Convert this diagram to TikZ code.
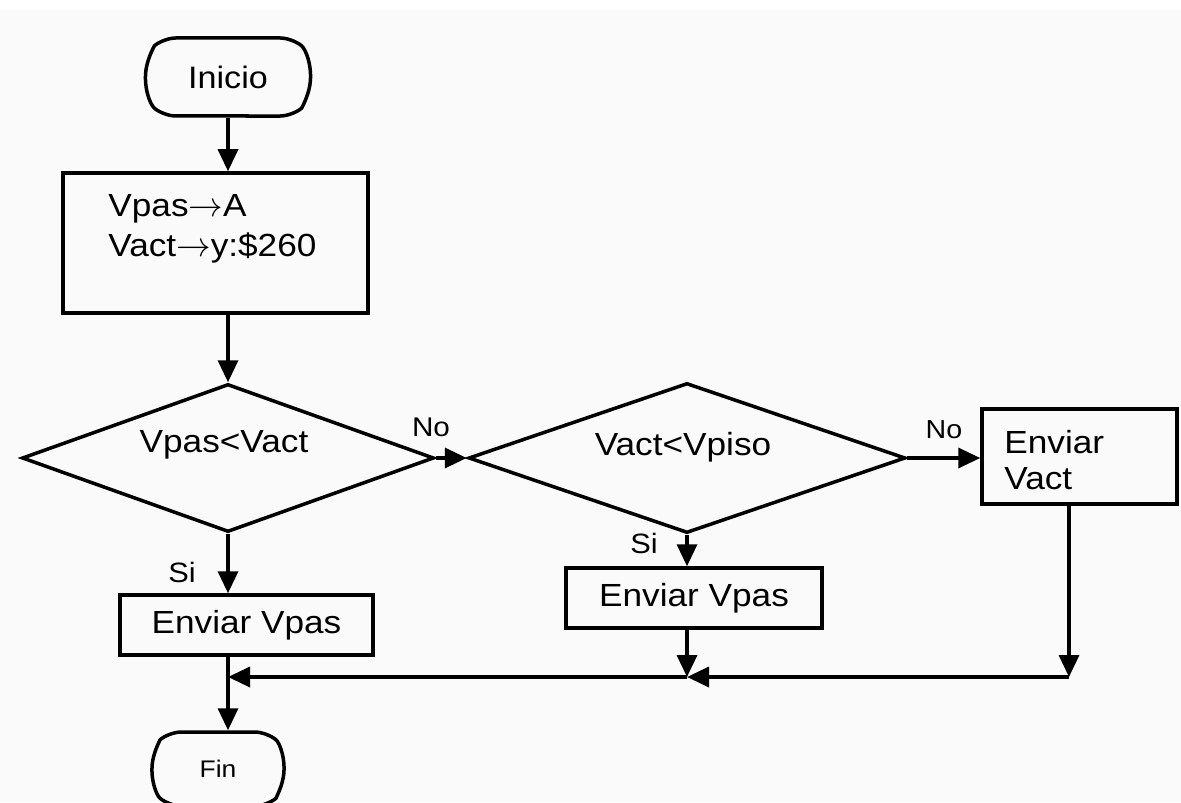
\documentclass[tikz,border=0pt]{standalone}
\usepackage{fontspec}
\setmainfont{Liberation Sans}[FakeStretch=1.1]
\usetikzlibrary{shapes.geometric,shapes.misc,arrows.meta}
\definecolor{paper}{RGB}{250,250,250}
\tikzset{
  fl/.style={line width=1.75pt, draw=black},
  arr/.style={fl, -{Triangle[length=11pt,width=10pt]}},
  term/.style={fl, rounded rectangle, rounded rectangle arc length=100,
               rounded corners=6pt, inner sep=0pt},
  proc/.style={fl, rectangle, inner sep=0pt},
  decide/.style={fl, diamond, inner sep=0pt, aspect=1},
  txt/.style={inner sep=0pt, font=\fontsize{16}{20}\selectfont},
  lbl/.style={inner sep=0pt, font=\fontsize{14}{16}\selectfont}
}
\begin{document}
\begin{tikzpicture}[x=0.5pt,y=-0.5pt]
  \useasboundingbox (0,0) rectangle (1181,802);
  \clip (0,0) rectangle (1181,802);
  \fill[paper] (0,10) rectangle (1181,802);

  % start / end terminals
  \node[term, minimum width=82.5pt, minimum height=39pt,
        font=\fontsize{15.5}{18}\selectfont] (ini) at (228,77) {Inicio};
  \node[term, minimum width=66pt, minimum height=37pt,
        font=\fontsize{12}{14}\selectfont] (fin) at (218,769) {Fin};

  % initial assignment
  \node[proc, minimum width=152.5pt, minimum height=70pt] (asig) at (215.5,243) {};
  \node[txt, anchor=west, align=left] (asigt) at (108,229)
    {Vpas$\rightarrow$A\\Vact$\rightarrow$y:\$260};

  % decisions
  \node[decide, minimum width=206pt, minimum height=74pt] (d1) at (228,458) {};
  \node[txt] (d1t) at (224,445) {Vpas<Vact};
  \node[decide, minimum width=218.5pt, minimum height=75pt] (d2) at (687,458) {};
  \node[txt] (d2t) at (683,447) {Vact<Vpiso};

  % outputs
  \node[proc, txt, fl, minimum width=126.5pt, minimum height=30pt] (out1) at (246.5,625) {Enviar Vpas};
  \node[proc, txt, fl, minimum width=128pt, minimum height=30pt] (out2) at (694,598) {Enviar Vpas};
  \node[proc, minimum width=97.5pt, minimum height=47.5pt] (out3) at (1079.5,456.5) {};
  \node[txt, anchor=west, align=left, font=\fontsize{16}{18}\selectfont] (out3t) at (1004,460) {Enviar\\Vact};

  % branch labels
  \node[lbl, font=\fontsize{13.5}{16}\selectfont] (no1) at (431,427) {No};
  \node[lbl, font=\fontsize{13}{15}\selectfont] (no2) at (944,430) {No};
  \node[lbl] (si1) at (182,572) {Si};
  \node[lbl] (si2) at (644,543) {Si};

  % merge points
  \coordinate (cR) at (1069,677);
  \coordinate (jm) at (687,677);
  \coordinate (jl) at (228,677);

  % connectors
  \draw[arr] (ini.south) -- (ini.south |- asig.north);
  \draw[arr] (asig.south -| ini.south) -- (d1.north);
  \draw[arr] (d1.east) -- (d2.west);
  \draw[arr] (d2.east) -- (d2.east -| out3.west);
  \draw[arr] (d1.south) -- (d1.south |- out1.north);
  \draw[arr] (d2.south) -- (d2.south |- out2.north);
  \draw[arr] (out2.south -| jm) -- (jm);
  \draw[arr] (out3.south -| cR) -- (cR);
  \draw[arr] (cR) -- (jm);
  \draw[arr] (jm) -- (jl);
  \draw[arr] (out1.south -| jl) -- (jl |- fin.north);
\end{tikzpicture}
\end{document}
